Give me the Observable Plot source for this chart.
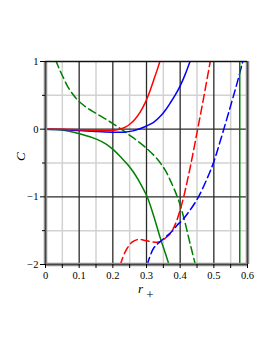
<!DOCTYPE html>
<html>
<head>
<meta charset="utf-8">
<script src="https://cdn.jsdelivr.net/npm/d3@7"></script>
<script src="https://cdn.jsdelivr.net/npm/@observablehq/plot@0.6"></script>
<style>
  html, body { margin: 0; padding: 0; background: #fff; }
  #chart { width: 273px; height: 353px; }
  #chart svg, #chart svg text { font-family: "Liberation Serif", "DejaVu Serif", serif !important; }
</style>
</head>
<body>
<div id="chart"></div>
<script>
// ---- Data (x = r+, y = C) ----
const redSolid = [[0,0],[0.05,-0.002],[0.1,-0.008],[0.148,-0.02],[0.198,-0.02],[0.22,0.0],[0.237,0.03],[0.252,0.08],[0.267,0.155],[0.282,0.26],[0.297,0.40],[0.31,0.56],[0.321,0.72],[0.332,0.88],[0.341,1.02]];
const blueSolid = [[0,0],[0.05,-0.005],[0.099,-0.02],[0.15,-0.035],[0.198,-0.045],[0.232,-0.045],[0.26,-0.025],[0.282,0.01],[0.297,0.04],[0.321,0.1],[0.341,0.19],[0.356,0.28],[0.371,0.39],[0.386,0.51],[0.40,0.64],[0.415,0.81],[0.43,1.01]];
const greenSolid = [[0,0],[0.03,-0.005],[0.059,-0.02],[0.104,-0.07],[0.153,-0.15],[0.18,-0.22],[0.203,-0.31],[0.225,-0.42],[0.247,-0.54],[0.262,-0.64],[0.277,-0.76],[0.29,-0.88],[0.302,-1.0],[0.32,-1.26],[0.341,-1.61],[0.355,-1.82],[0.366,-1.99],[0.37,-2.05]];
const greenDashed = [[0.03,1.02],[0.042,0.88],[0.054,0.75],[0.066,0.63],[0.079,0.53],[0.092,0.45],[0.104,0.39],[0.125,0.31],[0.148,0.24],[0.175,0.16],[0.198,0.09],[0.225,0.0],[0.247,-0.08],[0.272,-0.17],[0.297,-0.27],[0.33,-0.43],[0.356,-0.61],[0.371,-0.76],[0.386,-0.93],[0.40,-1.12],[0.413,-1.35],[0.425,-1.6],[0.435,-1.8],[0.445,-2.0]];
const redDashed = [[0.222,-2.01],[0.237,-1.81],[0.257,-1.67],[0.275,-1.63],[0.292,-1.64],[0.31,-1.66],[0.331,-1.67],[0.345,-1.65],[0.356,-1.61],[0.371,-1.54],[0.386,-1.40],[0.40,-1.19],[0.41,-1.01],[0.43,-0.56],[0.45,-0.05],[0.47,0.47],[0.49,1.02]];
const blueDashed = [[0.302,-2.01],[0.321,-1.76],[0.346,-1.64],[0.376,-1.51],[0.391,-1.42],[0.405,-1.35],[0.42,-1.26],[0.45,-1.04],[0.48,-0.73],[0.50,-0.48],[0.52,-0.16],[0.549,0.33],[0.569,0.68],[0.587,1.02]];
const greenAsymptote = [0.577];

// ---- Axes / grid values ----
const xTicks = [0, 0.1, 0.2, 0.3, 0.4, 0.5, 0.6];
const xMinor = [0.05, 0.15, 0.25, 0.35, 0.45, 0.55];
const yTicks = [1, 0, -1, -2];
const yMinor = [0.5, -0.5, -1.5];
const xDomain = [0, 0.6];
const yDomain = [-2, 1];
const xLabel = ["r", "+"];
const yLabel = "C";

const RED = "#ff0000", BLUE = "#0000ff", GREEN = "#008000";
const lineOpts = (color, dashed) => ({
  x: d => d[0], y: d => d[1], stroke: color, strokeWidth: 1.5,
  strokeDasharray: dashed ? "8,4" : null, curve: "catmull-rom", clip: true
});
const noLabel = () => "";

const chart = Plot.plot({
  width: 273, height: 353,
  marginLeft: 45, marginRight: 26, marginTop: 61, marginBottom: 89,
  x: {domain: xDomain},
  y: {domain: yDomain},
  style: {fontFamily: "Liberation Serif", fontSize: "10.5px", background: "#fff", color: "#000"},
  marks: [
    Plot.ruleX(xMinor, {stroke: "#d2d2d2", strokeWidth: 1.5}),
    Plot.ruleY(yMinor, {stroke: "#d2d2d2", strokeWidth: 1.5}),
    Plot.ruleX(xTicks.slice(1, -1), {stroke: "#2a2a2a", strokeWidth: 1.3}),
    Plot.ruleY([0, -1], {stroke: "#2a2a2a", strokeWidth: 1.3}),
    Plot.line(greenSolid, lineOpts(GREEN, false)),
    Plot.line(greenDashed, lineOpts(GREEN, true)),
    Plot.line(blueSolid, lineOpts(BLUE, false)),
    Plot.line(redSolid, lineOpts(RED, false)),
    Plot.line(redDashed, lineOpts(RED, true)),
    Plot.line(blueDashed, lineOpts(BLUE, true)),
    Plot.ruleX(greenAsymptote, {stroke: GREEN, strokeWidth: 1.5}),
    // frame
    Plot.ruleX([xDomain[0], xDomain[1]], {stroke: "#8a8a8a", strokeWidth: 3.5}),
    Plot.ruleY([yDomain[0]], {stroke: "#8a8a8a", strokeWidth: 3.5}),
    Plot.ruleX([xDomain[0], xDomain[1]], {stroke: "#333", strokeWidth: 0.8}),
    Plot.ruleY([yDomain[0]], {stroke: "#333", strokeWidth: 0.8}),
    Plot.ruleY([yDomain[1]], {stroke: "#111", strokeWidth: 1.6}),
    // axes
    Plot.axisX({ticks: xTicks, tickSize: 4, tickPadding: 3, tickFormat: d => d === 0 ? "0" : d3.format(".1f")(d), label: null}),
    Plot.axisX({ticks: xMinor, tickSize: 4, tickFormat: noLabel, label: null}),
    Plot.axisY({ticks: yTicks, tickSize: 5, tickPadding: 2, tickFormat: d => d3.format("d")(d).replace("-", "\u2212"), label: null}),
    Plot.axisY({ticks: yMinor, tickSize: 3, tickFormat: noLabel, label: null}),
    // axis labels
    Plot.text([xLabel[0]], {text: d => d, frameAnchor: "bottom", dx: -6, dy: 24, fontStyle: "italic", fontSize: 13, lineAnchor: "middle"}),
    Plot.text([xLabel[1]], {text: d => d, frameAnchor: "bottom", dx: 3.5, dy: 30, fontSize: 13, lineAnchor: "middle"}),
    Plot.text([yLabel], {text: d => d, frameAnchor: "left", dx: -25, dy: -2, rotate: -90, fontStyle: "italic", fontSize: 13, lineAnchor: "middle"})
  ]
});
document.getElementById("chart").appendChild(chart);
</script>
</body>
</html>
